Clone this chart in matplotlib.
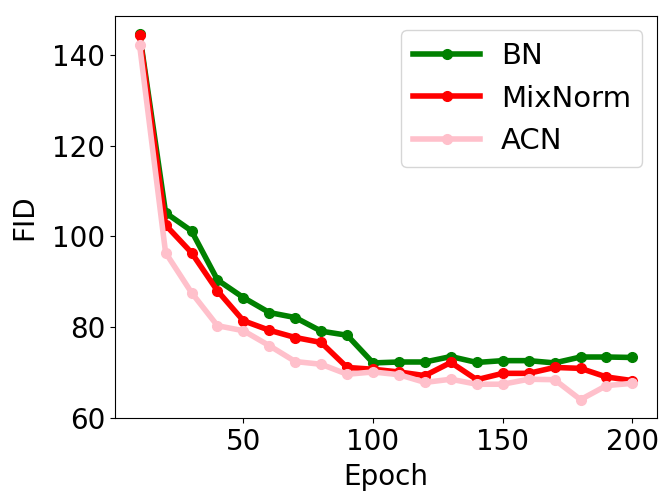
import matplotlib
matplotlib.use("Agg")
import matplotlib.pyplot as plt

epochs = [10, 20, 30, 40, 50, 60, 70, 80, 90, 100,
          110, 120, 130, 140, 150, 160, 170, 180, 190, 200]

bn = [144.6, 105.2, 101.2, 90.4, 86.5, 83.2, 82.1, 79.1, 78.2, 72.1,
      72.3, 72.3, 73.5, 72.2, 72.6, 72.6, 72.1, 73.4, 73.4, 73.3]
mixnorm = [144.3, 102.5, 96.4, 88.0, 81.4, 79.3, 77.7, 76.6, 71.1, 70.7,
           70.1, 69.3, 72.2, 68.4, 69.8, 69.8, 71.1, 70.9, 69.0, 68.2]
acn = [142.1, 96.4, 87.6, 80.3, 79.2, 75.9, 72.4, 71.8, 69.6, 70.1,
       69.5, 67.8, 68.5, 67.4, 67.4, 68.5, 68.4, 64.0, 67.1, 67.6]

fig, ax = plt.subplots(figsize=(6.61, 4.94), dpi=100)

ax.plot(epochs, bn, color='green', marker='o', linewidth=4, markersize=7, label='BN')
ax.plot(epochs, mixnorm, color='red', marker='o', linewidth=4, markersize=7, label='MixNorm')
ax.plot(epochs, acn, color='pink', marker='o', linewidth=4, markersize=7, label='ACN')

ax.set_xlabel("Epoch", fontsize=20, labelpad=5)
ax.set_ylabel("FID", fontsize=20, labelpad=10)
ax.set_yticks([60, 80, 100, 120, 140])
ax.tick_params(labelsize=20)
ax.legend(fontsize=21, handlelength=2.3, handletextpad=0.7)

plt.subplots_adjust(left=0.174, right=0.994, top=0.968, bottom=0.154)
plt.savefig("out.png")
